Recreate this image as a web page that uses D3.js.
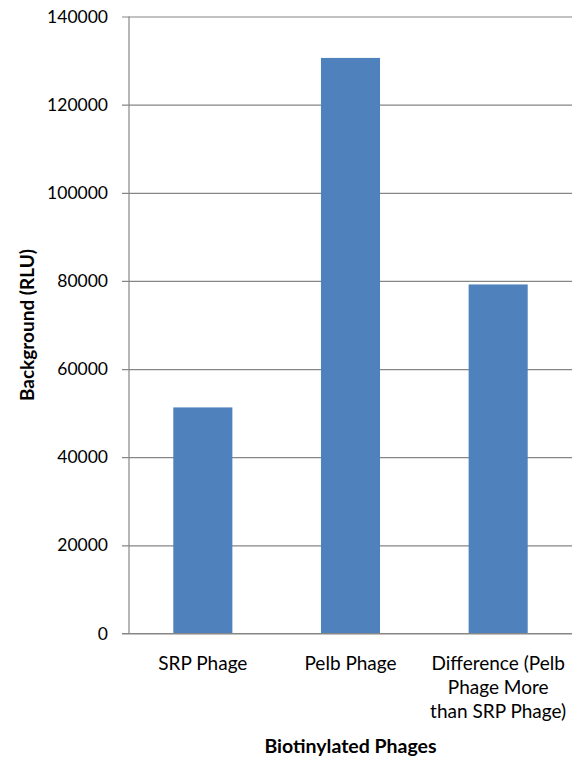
<!DOCTYPE html>
<html>
<head>
<meta charset="utf-8">
<script src="https://cdn.jsdelivr.net/npm/d3@7"></script>
<style>
  html, body { margin: 0; padding: 0; background: #fff; }
  svg { display: block; }
  text { font-family: Lato, "Open Sans", sans-serif; fill: #000; }
</style>
</head>
<body>
<div id="chart"></div>
<script>
// Background luminescence per biotinylated phage
const categories = [
  ["SRP Phage"],
  ["Pelb Phage"],
  ["Difference (Pelb", "Phage More", "than SRP Phage)"]
];
const values = [51300, 130600, 79200];
const yTicks = [0, 20000, 40000, 60000, 80000, 100000, 120000, 140000];
const xTitle = "Biotinylated Phages";
const yTitle = "Background (RLU)";

const W = 581, H = 761;
const margin = { top: 16.5, right: 9, bottom: 127.5, left: 129 };
const innerW = W - margin.left - margin.right;
const innerH = H - margin.top - margin.bottom;

const svg = d3.select("#chart").append("svg")
  .attr("width", W).attr("height", H);

const g = svg.append("g")
  .attr("transform", `translate(${margin.left},${margin.top})`);

const x = d3.scaleBand()
  .domain(d3.range(categories.length))
  .range([0, innerW])
  .paddingInner(0.6)
  .paddingOuter(0.3);

const y = d3.scaleLinear()
  .domain([0, 140000])
  .range([innerH, 0]);

const gridColor = "#868686";

// horizontal gridlines with short tick stubs to the left of the axis
const yAxis = d3.axisLeft(y)
  .tickValues(yTicks)
  .tickSize(-innerW)
  .tickFormat(d3.format("d"))
  .tickPadding(14);

const gy = g.append("g").call(yAxis);
gy.select(".domain").remove();
gy.selectAll(".tick line")
  .attr("x1", -7)
  .attr("stroke", gridColor)
  .attr("stroke-width", 1.2);
gy.selectAll(".tick text")
  .attr("x", -21)
  .style("font-size", "17.5px")
  .style("font-family", "Lato, 'Open Sans', sans-serif")
  .attr("fill", "#000");

// bars
g.selectAll("rect.bar")
  .data(values)
  .join("rect")
  .attr("class", "bar")
  .attr("x", (d, i) => x(i))
  .attr("width", x.bandwidth())
  .attr("y", d => y(d))
  .attr("height", d => innerH - y(d))
  .attr("fill", "#4F81BD");

// vertical axis line
g.append("line")
  .attr("x1", 0).attr("x2", 0)
  .attr("y1", 0).attr("y2", innerH)
  .attr("stroke", gridColor)
  .attr("stroke-width", 1.2);

// baseline
g.append("line")
  .attr("x1", -7).attr("x2", innerW)
  .attr("y1", innerH).attr("y2", innerH)
  .attr("stroke", gridColor)
  .attr("stroke-width", 1.2);

// category labels (multi-line)
const catG = g.append("g");
categories.forEach((lines, i) => {
  const t = catG.append("text")
    .attr("x", x(i) + x.bandwidth() / 2)
    .attr("y", innerH + 36)
    .attr("text-anchor", "middle")
    .style("font-size", "19px");
  lines.forEach((ln, k) => {
    t.append("tspan")
      .attr("x", x(i) + x.bandwidth() / 2)
      .attr("dy", k === 0 ? 0 : 24)
      .text(ln);
  });
});

// axis titles
svg.append("text")
  .attr("x", margin.left + innerW / 2)
  .attr("y", 753)
  .attr("text-anchor", "middle")
  .style("font-size", "19.5px")
  .style("font-weight", "bold")
  .text(xTitle);

svg.append("text")
  .attr("transform", `translate(34,${margin.top + innerH / 2}) rotate(-90)`)
  .attr("text-anchor", "middle")
  .style("font-size", "19px")
  .style("font-weight", "bold")
  .text(yTitle);
</script>
</body>
</html>
